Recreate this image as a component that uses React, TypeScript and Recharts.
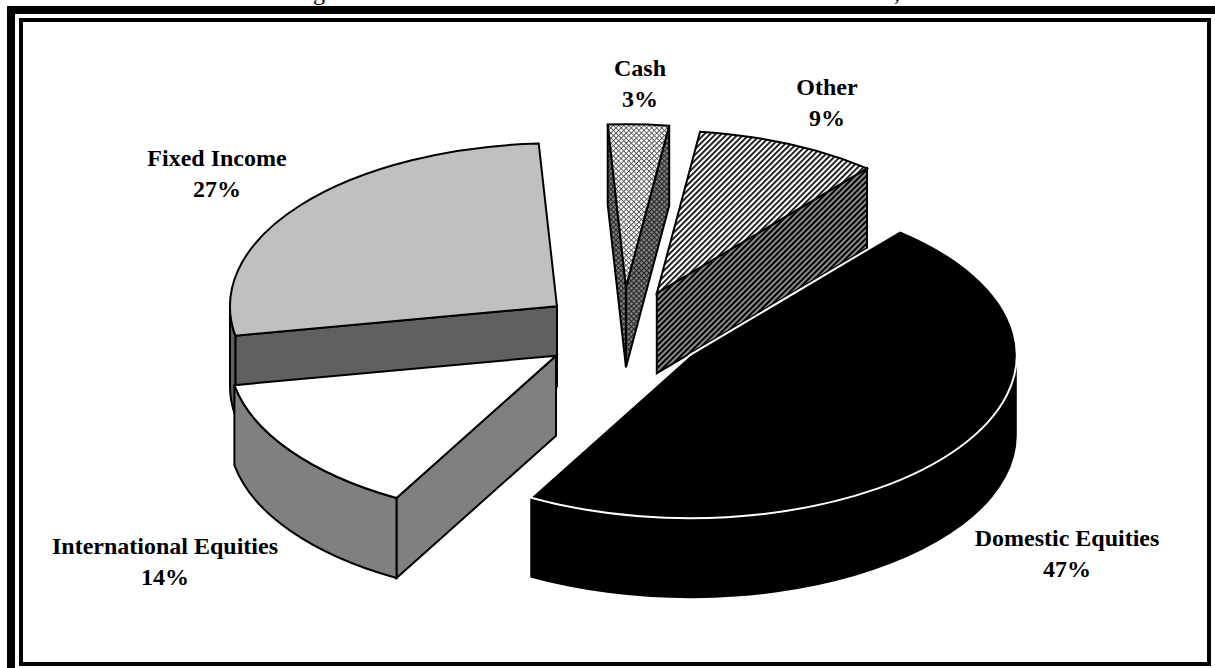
import React from "react";
import { PieChart, Pie } from "recharts";

// ---- data ----
const names = ["Other", "Cash", "Fixed Income", "International Equities", "Domestic Equities"];
const shares = [9, 3, 27, 14, 47];
const data = names.map((name, i) => ({ name, value: shares[i] }));

// ---- styling ----
const topFills = ["url(#hatchTop)", "url(#crossTop)", "#c0c0c0", "#ffffff", "#000000"];
const wallFills = ["url(#hatchWall)", "url(#crossWall)", "#606060", "#808080", "#000000"];
const edgeColors = ["#000", "#000", "#000", "#000", "#fff"];
const explosion = [0.26, 0.275, 0.255, 0.25, 0.25];
const labelX = [827, 640, 217, 165, 1067];
const labelY = [95, 76, 166, 554, 546];

const TILT = 0.4985;
const DEPTH = 80;
const FONT = "'Liberation Serif', 'Times New Roman', serif";
const rad = (d: number) => (d * Math.PI) / 180;

function Slice3D(props: any) {
  const { cx, cy, outerRadius: r, startAngle, endAngle, midAngle } = props;
  const idx = names.indexOf(props.name ?? props.payload?.name);
  const e = explosion[idx];
  const ax = cx + e * r * Math.cos(rad(midAngle));
  const ay = cy - e * r * TILT * Math.sin(rad(midAngle));
  const ry = r * TILT;
  const pt = (t: number, dz = 0) => [ax + r * Math.cos(rad(t)), ay - ry * Math.sin(rad(t)) + dz];
  const s = pt(startAngle);
  const en = pt(endAngle);
  const large = endAngle - startAngle > 180 ? 1 : 0;
  const top = `M${ax},${ay}L${s[0]},${s[1]}A${r},${ry} 0 ${large} 0 ${en[0]},${en[1]}Z`;

  const faces: string[] = [];
  const cut = (t: number) => {
    const p = pt(t);
    return `M${ax},${ay}L${p[0]},${p[1]}L${p[0]},${p[1] + DEPTH}L${ax},${ay + DEPTH}Z`;
  };
  if (Math.cos(rad(startAngle)) > 0) faces.push(cut(startAngle));
  if (Math.cos(rad(endAngle)) < 0) faces.push(cut(endAngle));
  for (const [lo, hi] of [[180, 360], [540, 720]]) {
    const a = Math.max(lo, startAngle);
    const b = Math.min(hi, endAngle);
    if (b > a) {
      const p = pt(a);
      const q = pt(b);
      faces.push(
        `M${p[0]},${p[1]}A${r},${ry} 0 0 0 ${q[0]},${q[1]}L${q[0]},${q[1] + DEPTH}A${r},${ry} 0 0 1 ${p[0]},${p[1] + DEPTH}Z`
      );
    }
  }
  const wallStroke = idx === 4 ? "none" : "#000";
  return (
    <g>
      {faces.map((d, i) => (
        <path key={i} d={d} fill={wallFills[idx]} stroke={wallStroke} strokeWidth={2} strokeLinejoin="miter" />
      ))}
      <path d={top} fill={topFills[idx]} stroke={edgeColors[idx]} strokeWidth={2} strokeLinejoin="miter" />
    </g>
  );
}

function SliceLabel(props: any) {
  const { index, name, percent } = props;
  return (
    <text textAnchor="middle" fontFamily={FONT} fontWeight="bold" fontSize={24} fill="#000">
      <tspan x={labelX[index]} y={labelY[index]}>{name}</tspan>
      <tspan x={labelX[index]} y={labelY[index] + 31}>{`${Math.round(percent * 100)}%`}</tspan>
    </text>
  );
}

const box = (s: React.CSSProperties): React.CSSProperties => ({ position: "absolute", boxSizing: "border-box", ...s });

export default function App() {
  return (
    <div style={{ position: "fixed", left: 0, top: 0, width: 1215, height: 668, overflow: "hidden", background: "#fff" }}>
      <div style={box({ left: 7, top: 6, width: 1300, height: 800, border: "8px solid #000" })} />
      <div style={box({ left: 19, top: 18, width: 1192, height: 648, border: "4px solid #000" })} />
      <div style={{ position: "absolute", left: 313, top: -20, fontFamily: FONT, fontSize: 24, lineHeight: "24px" }}>g</div>
      <div style={{ position: "absolute", left: 894, top: -20, fontFamily: FONT, fontSize: 24, lineHeight: "24px" }}>,</div>
      <div style={{ position: "absolute", left: 0, top: 0 }}>
        <PieChart width={1215} height={668} margin={{ top: 0, right: 0, bottom: 0, left: 0 }}>
          <defs>
            <pattern id="hatchTop" width="4" height="4" patternUnits="userSpaceOnUse" patternTransform="rotate(-45)">
              <rect width="4" height="4" fill="#fff" />
              <rect width="4" height="1.7" fill="#000" />
            </pattern>
            <pattern id="hatchWall" width="4" height="4" patternUnits="userSpaceOnUse" patternTransform="rotate(-45)">
              <rect width="4" height="4" fill="#8c8c8c" />
              <rect width="4" height="2" fill="#000" />
            </pattern>
            <pattern id="crossTop" width="3.6" height="3.6" patternUnits="userSpaceOnUse" patternTransform="rotate(45)">
              <rect width="3.6" height="3.6" fill="#fff" />
              <rect width="3.6" height="0.9" fill="#555" />
              <rect width="0.9" height="3.6" fill="#555" />
            </pattern>
            <pattern id="crossWall" width="3.6" height="3.6" patternUnits="userSpaceOnUse" patternTransform="rotate(45)">
              <rect width="3.6" height="3.6" fill="#808080" />
              <rect width="3.6" height="1" fill="#222" />
              <rect width="1" height="3.6" fill="#222" />
            </pattern>
          </defs>
          <Pie
            data={data}
            dataKey="value"
            nameKey="name"
            cx={622.5}
            cy={332}
            innerRadius={0}
            outerRadius={327}
            startAngle={50}
            endAngle={410}
            paddingAngle={0}
            stroke="none"
            isAnimationActive={false}
            labelLine={false}
            label={SliceLabel}
            shape={Slice3D}
            rootTabIndex={-1}
          />
        </PieChart>
      </div>
    </div>
  );
}
